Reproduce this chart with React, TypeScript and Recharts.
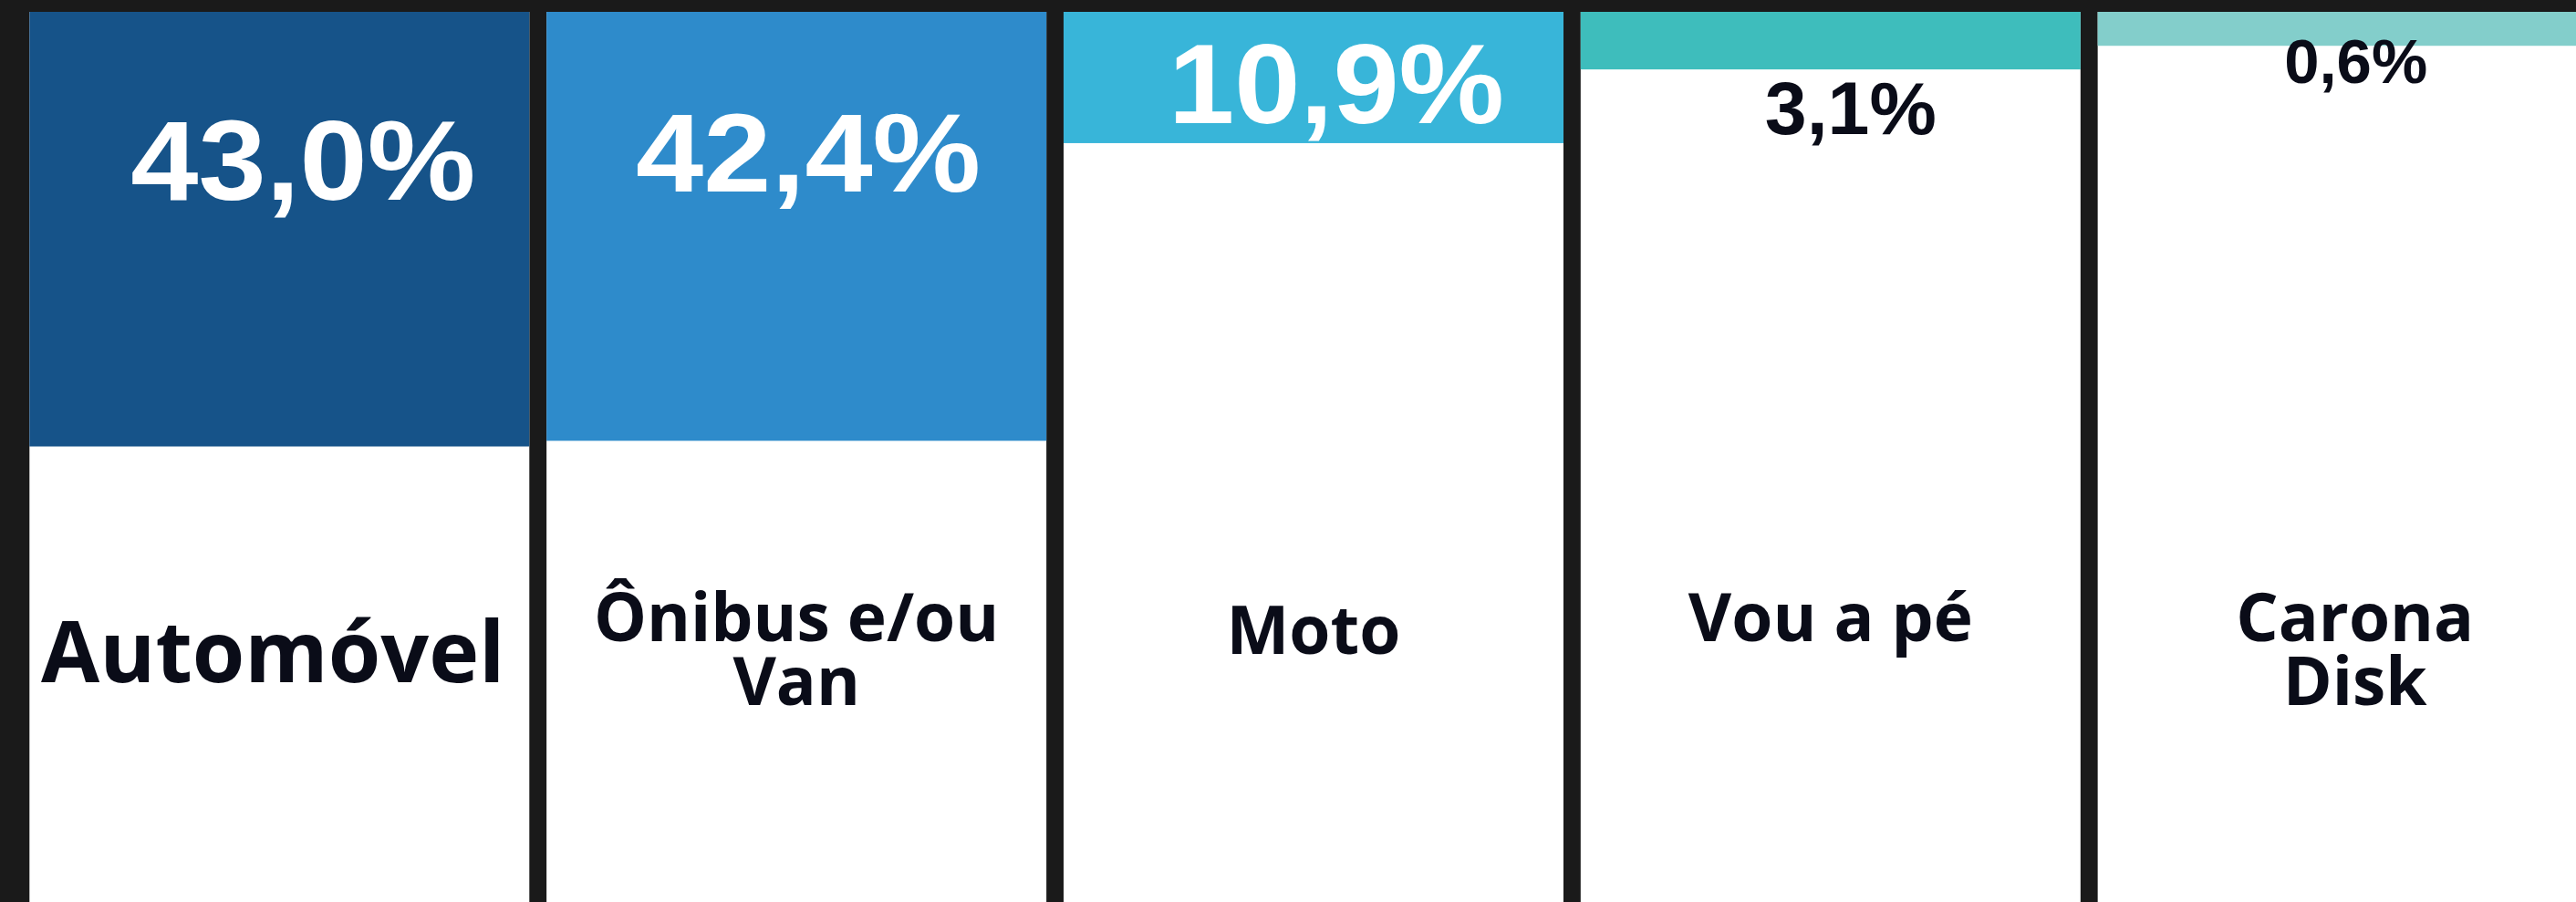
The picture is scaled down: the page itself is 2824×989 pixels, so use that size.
import { Bar, BarChart, Cell, LabelList, XAxis, YAxis } from 'recharts'

// share of students by transport mode (%)
const categories = ['Automóvel', 'Ônibus e/ou\nVan', 'Moto', 'Vou a pé', 'Carona\nDisk']
const shares = [43.0, 42.4, 10.9, 3.1, 0.6]
const barColors = ['#165389', '#2e8bcb', '#38b5d9', '#3ebdbc', '#83cecb']

const FRAME = '#1a1a1a'
const TEXT_DARK = '#0a0c18'

const CHART_W = 2857
const CHART_H = 989
const PLOT_TOP = 13
const PLOT_LEFT = 22.8
const Y_MAX = 94.2
// the bands in the original never get thinner than this
const BAND_PAD = 31
const LINE_GAP = 70

// text is stretched to the widths seen in the original
const valueLabelLayout = [
  { size: 124, fill: '#ffffff', dx: 26, dy: 206, length: 378 },
  { size: 122, fill: '#ffffff', dx: 13, dy: 197, length: 378 },
  { size: 124, fill: '#ffffff', dx: 25, dy: 122, length: 368 },
  { size: 82, fill: TEXT_DARK, dx: 22, dy: 134, length: 188 },
  { size: 68, fill: TEXT_DARK, dx: 9, dy: 78, length: 157 },
]

const categoryLabelLayout = [
  { size: 93, dx: -7, dy: 735 },
  { size: 73, dx: 0, dy: 690 },
  { size: 73, dx: 0, dy: 704 },
  { size: 73, dx: 0, dy: 690 },
  { size: 73, dx: 8, dy: 690 },
]

const rows = categories.map((name, i) => ({ name, share: shares[i] }))

const formatShare = (v: number) => `${v.toFixed(1).replace('.', ',')}%`

function box(props: any) {
  const vb = props.viewBox ?? props
  const x = vb.x ?? props.x
  const y = vb.y ?? props.y
  const width = vb.width ?? props.width
  const height = vb.height ?? props.height
  return { x, width, top: Math.min(y, y + height) }
}

function BandShape(props: any) {
  const { x, y, width, height, fill } = props
  const top = Math.min(y, y + height)
  return <rect x={x} y={top} width={width} height={Math.abs(height) + BAND_PAD} fill={fill} />
}

function ValueLabel(props: any) {
  const { x, width, top } = box(props)
  const st = valueLabelLayout[props.index]
  return (
    <text
      x={x + width / 2 + st.dx}
      y={top + st.dy}
      textAnchor="middle"
      fontFamily="'Liberation Sans', Arial, sans-serif"
      fontWeight={700}
      fontSize={st.size}
      textLength={st.length}
      lengthAdjust="spacingAndGlyphs"
      fill={st.fill}
    >
      {formatShare(Number(props.value))}
    </text>
  )
}

function CategoryLabel(props: any) {
  const { x, width, top } = box(props)
  const st = categoryLabelLayout[props.index]
  const cx = x + width / 2 + st.dx
  const lines = String(props.value).split('\n')
  return (
    <text
      x={cx}
      y={top + st.dy}
      textAnchor="middle"
      fontFamily="'Open Sans', sans-serif"
      fontWeight={700}
      fontSize={st.size}
      fill={TEXT_DARK}
    >
      {lines.map((line, j) => (
        <tspan key={j} x={cx} dy={j === 0 ? 0 : LINE_GAP}>
          {line}
        </tspan>
      ))}
    </text>
  )
}

export default function App() {
  return (
    <div
      style={{
        position: 'absolute',
        left: 0,
        top: 0,
        width: 2824,
        height: 989,
        overflow: 'hidden',
        background: FRAME,
      }}
    >
      <BarChart
        width={CHART_W}
        height={CHART_H}
        data={rows}
        margin={{ top: PLOT_TOP, right: 0, bottom: 0, left: PLOT_LEFT }}
        barCategoryGap={9.5}
      >
        <XAxis dataKey="name" hide />
        <YAxis type="number" domain={[0, Y_MAX]} reversed hide />
        <Bar
          dataKey="share"
          isAnimationActive={false}
          background={{ fill: '#ffffff' }}
          shape={<BandShape />}
        >
          {rows.map((r, i) => (
            <Cell key={r.name} fill={barColors[i]} />
          ))}
          <LabelList dataKey="share" content={<ValueLabel />} />
          <LabelList dataKey="name" content={<CategoryLabel />} />
        </Bar>
      </BarChart>
    </div>
  )
}
